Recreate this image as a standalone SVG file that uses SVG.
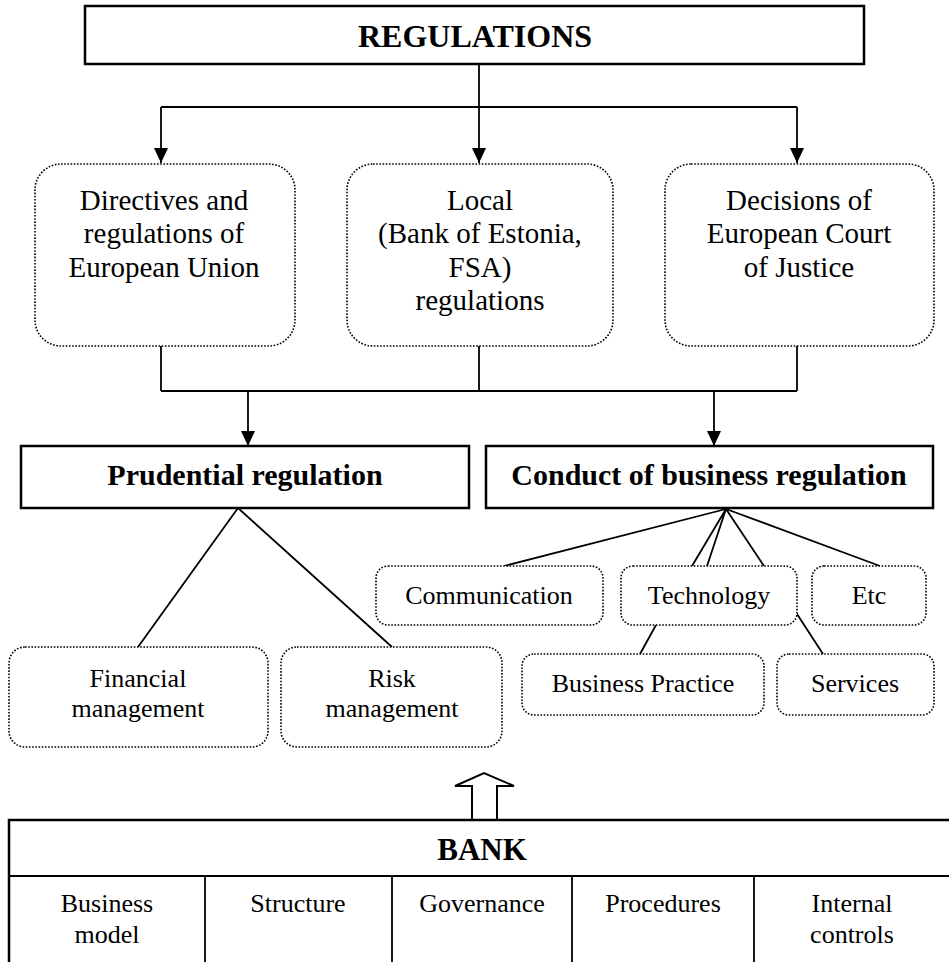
<svg xmlns="http://www.w3.org/2000/svg" width="949" height="962" viewBox="0 0 949 962">
<style>
.solid{fill:#fff;stroke:#000;stroke-width:2.5}
.dot{fill:#fff;stroke:#000;stroke-width:1.6;stroke-dasharray:1.6 1.6}
.ln{fill:none;stroke:#000;stroke-width:1.8}
.t{font-family:"Liberation Serif","Times New Roman",serif;fill:#000;text-anchor:middle}
.b{font-weight:bold;font-size:30px}
.r29{font-size:29px}
.r26{font-size:26px}
</style>
<defs>
<marker id="ah" markerUnits="userSpaceOnUse" markerWidth="15" markerHeight="14" refX="15" refY="7" orient="auto">
<path d="M0,0 L15,7 L0,14 z" fill="#000"/>
</marker>
</defs>
<rect width="949" height="962" fill="#fff"/>
<g id="connectors">
<path class="ln" d="M479,64 V107"/>
<path class="ln" d="M161,107 H797"/>
<path class="ln" d="M161,107 V163" marker-end="url(#ah)"/>
<path class="ln" d="M479,107 V163" marker-end="url(#ah)"/>
<path class="ln" d="M797,107 V163" marker-end="url(#ah)"/>
<path class="ln" d="M161,346 V391 M479,346 V391 M797,346 V391"/>
<path class="ln" d="M161,391 H797"/>
<path class="ln" d="M248,391 V446" marker-end="url(#ah)"/>
<path class="ln" d="M714,391 V446" marker-end="url(#ah)"/>
<path class="ln" d="M238,508 L138,647 M238,508 L392,647"/>
<path class="ln" d="M726,509 L504,566 M726,509 L692,566 M726,509 L707,566 M726,509 L764,566 M726,509 L880,566"/>
<path class="ln" d="M656,625 L640,654 M797,614 L823,654"/>
<path d="M472,820 V786 H455 L484,773 L514,786 H497 V820" fill="#fff" stroke="#000" stroke-width="2"/>
</g>
<g id="regulations">
<rect class="solid" x="85" y="6" width="779" height="58"/>
<text class="t b" x="475" y="47" style="font-size:32px">REGULATIONS</text>
</g>
<g id="eu">
<rect class="dot" x="35" y="164" width="260" height="182" rx="26"/>
<text class="t r29" x="164" y="210">Directives and</text>
<text class="t r29" x="164" y="243">regulations of</text>
<text class="t r29" x="164" y="277">European Union</text>
</g>
<g id="local">
<rect class="dot" x="347" y="164" width="266" height="182" rx="26"/>
<text class="t r29" x="480" y="210">Local</text>
<text class="t r29" x="480" y="243">(Bank of Estonia,</text>
<text class="t r29" x="480" y="277">FSA)</text>
<text class="t r29" x="480" y="310">regulations</text>
</g>
<g id="court">
<rect class="dot" x="665" y="164" width="269" height="182" rx="26"/>
<text class="t r29" x="799" y="210">Decisions of</text>
<text class="t r29" x="799" y="243">European Court</text>
<text class="t r29" x="799" y="277">of Justice</text>
</g>
<g id="prudential">
<rect class="solid" x="21" y="446" width="448" height="62"/>
<text class="t b" x="245" y="485">Prudential regulation</text>
</g>
<g id="conduct">
<rect class="solid" x="486" y="446" width="447" height="62"/>
<text class="t b" x="709" y="485">Conduct of business regulation</text>
</g>
<g id="financial">
<rect class="dot" x="9" y="647" width="259" height="100" rx="16"/>
<text class="t r26" x="138" y="687">Financial</text>
<text class="t r26" x="138" y="717">management</text>
</g>
<g id="risk">
<rect class="dot" x="281" y="647" width="221" height="100" rx="16"/>
<text class="t r26" x="392" y="687">Risk</text>
<text class="t r26" x="392" y="717">management</text>
</g>
<g id="communication">
<rect class="dot" x="376" y="566" width="227" height="59" rx="12"/>
<text class="t r26" x="489" y="604">Communication</text>
</g>
<g id="technology">
<rect class="dot" x="621" y="566" width="176" height="59" rx="12"/>
<text class="t r26" x="709" y="604">Technology</text>
</g>
<g id="etc">
<rect class="dot" x="812" y="566" width="114" height="59" rx="12"/>
<text class="t r26" x="869" y="604">Etc</text>
</g>
<g id="practice">
<rect class="dot" x="522" y="654" width="242" height="61" rx="12"/>
<text class="t r26" x="643" y="692">Business Practice</text>
</g>
<g id="services">
<rect class="dot" x="777" y="654" width="157" height="61" rx="12"/>
<text class="t r26" x="855" y="692">Services</text>
</g>
<g id="bank">
<rect class="solid" x="9" y="820" width="945" height="150"/>
<path class="ln" d="M9,876 H952 M205,876 V962 M392,876 V962 M572,876 V962 M754,876 V962" stroke-width="2.5"/>
<text class="t b" x="482" y="860" style="font-size:31px">BANK</text>
<text class="t r26" x="107" y="912">Business</text>
<text class="t r26" x="107" y="943">model</text>
<text class="t r26" x="298" y="912">Structure</text>
<text class="t r26" x="482" y="912">Governance</text>
<text class="t r26" x="663" y="912">Procedures</text>
<text class="t r26" x="852" y="912">Internal</text>
<text class="t r26" x="852" y="943">controls</text>
</g>
</svg>
